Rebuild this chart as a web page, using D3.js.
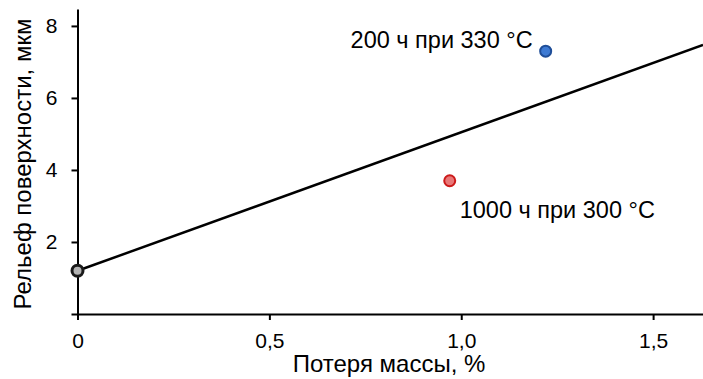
<!DOCTYPE html>
<html>
<head>
<meta charset="utf-8">
<script src="https://cdn.jsdelivr.net/npm/d3@7"></script>
<style>
  body { margin: 0; background: #fff; }
  text { font-family: "Liberation Sans", Arial, sans-serif; }
</style>
</head>
<body>
<svg id="chart" width="703" height="379"></svg>
<script>
// data
const pointNames = ['base', '1000 ч при 300 °C', '200 ч при 330 °C'];
const massLoss = [0, 0.97, 1.22];
const relief = [1.2, 3.7, 7.3];
const fitX = [0, 1.63];
const fitY = [1.2, 7.47];
const xTicks = [0, 0.5, 1.0, 1.5];
const yTicks = [2, 4, 6, 8];

const svg = d3.select('#chart');
const margin = { left: 77.5, top: 9, right: 0, bottom: 65 };
const width = 703, height = 379;

const x = d3.scaleLinear().domain([0, 1.63]).range([margin.left, width]);
const y = d3.scaleLinear().domain([0, 8.47]).range([height - margin.bottom, margin.top]);

const fmt = d => d === 0 ? '0' : d3.format('.1f')(d).replace('.', ',');

const xAxis = svg.append('g')
  .attr('transform', `translate(0,${y(0)})`)
  .call(d3.axisBottom(x).tickValues(xTicks).tickFormat(fmt).tickSize(6).tickSizeOuter(0));
const yAxis = svg.append('g')
  .attr('transform', `translate(${x(0)},0)`)
  .call(d3.axisLeft(y).tickValues([0].concat(yTicks)).tickFormat(d => d === 0 ? '' : d).tickSize(6).tickSizeOuter(0));

[xAxis, yAxis].forEach(g => {
  g.select('.domain').attr('stroke', '#000').attr('stroke-width', 2);
  g.selectAll('.tick line').attr('stroke', '#000').attr('stroke-width', 2);
  g.selectAll('.tick text').attr('fill', '#000').style('font-size', '21px');
});
xAxis.selectAll('.tick text').attr('y', 34).attr('dy', null);
yAxis.selectAll('.tick text').attr('x', -20);

svg.append('text')
  .attr('x', 389).attr('y', 372)
  .attr('text-anchor', 'middle')
  .style('font-size', '24px')
  .text('Потеря массы, %');

svg.append('text')
  .attr('transform', `translate(31,${164}) rotate(-90)`)
  .attr('text-anchor', 'middle')
  .style('font-size', '24px')
  .text('Рельеф поверхности, мкм');

const line = d3.line().x(d => x(d[0])).y(d => y(d[1]));
svg.append('path')
  .attr('d', line(d3.zip(fitX, fitY)))
  .attr('fill', 'none')
  .attr('stroke', '#000')
  .attr('stroke-width', 2.5);

const fills = ['#b3b3b3', '#e87878', '#3d7ad3'];
const strokes = ['#1a1a1a', '#cc1a1a', '#1f4e98'];
svg.selectAll('circle.pt')
  .data(d3.range(pointNames.length))
  .join('circle')
  .attr('class', 'pt')
  .attr('cx', i => x(massLoss[i]))
  .attr('cy', i => y(relief[i]))
  .attr('r', 5.5)
  .attr('fill', i => fills[i])
  .attr('stroke', i => strokes[i])
  .attr('stroke-width', i => i === 0 ? 3 : 2);

svg.append('text')
  .attr('x', x(massLoss[2]) - 13).attr('y', y(relief[2]) - 3)
  .attr('text-anchor', 'end')
  .style('font-size', '23.5px')
  .text(pointNames[2]);

svg.append('text')
  .attr('x', x(massLoss[1]) + 10).attr('y', y(relief[1]) + 37)
  .style('font-size', '23.5px')
  .text(pointNames[1]);
</script>
</body>
</html>
